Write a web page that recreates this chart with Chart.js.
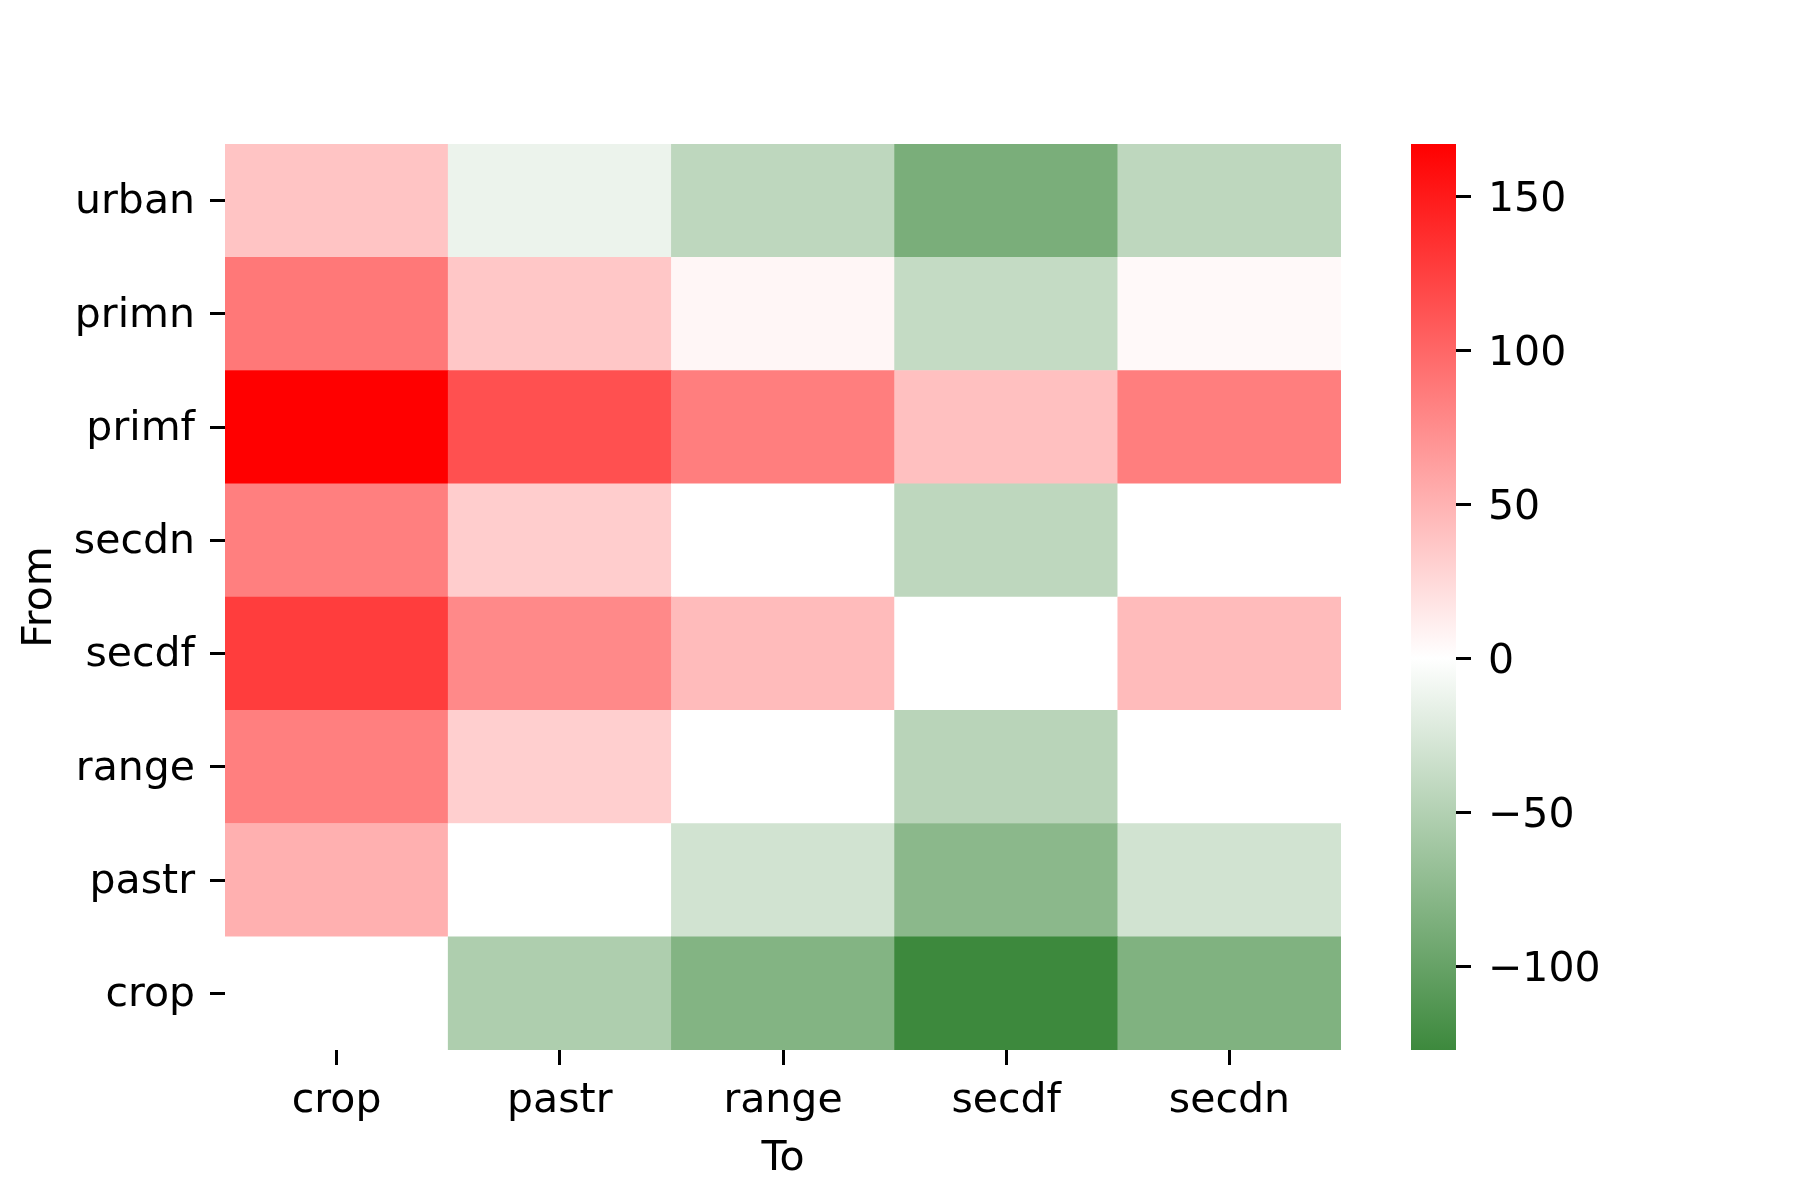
<!DOCTYPE html>
<html>
<head>
<meta charset="utf-8">
<script src="https://cdn.jsdelivr.net/npm/chart.js@4/dist/chart.umd.min.js"></script>
<style>
  html, body { margin: 0; padding: 0; background: #fff; }
  #wrap { position: relative; width: 1800px; height: 1200px; }
  canvas { position: absolute; left: 0; top: 0; }
</style>
</head>
<body>
<div id="wrap">
  <canvas id="heat" width="1800" height="1200"></canvas>
  <canvas id="cbar" width="1800" height="1200"></canvas>
</div>
<script>
// ---- data ----
const toLabels = ['crop', 'pastr', 'range', 'secdf', 'secdn'];
// rows listed from top to bottom as in the picture
const fromLabels = ['urban', 'primn', 'primf', 'secdn', 'secdf', 'range', 'pastr', 'crop'];
const rowUrban = [38.6, -12.4, -42.6, -87.0, -42.6];
const rowPrimn = [88.4, 36.7, 5.9, -38.6, 3.9];
const rowPrimf = [167.0, 114.6, 84.5, 41.3, 84.5];
const rowSecdn = [83.8, 32.7, 0, -42.6, 0];
const rowSecdf = [127.0, 77.3, 44.5, 0, 44.5];
const rowRange = [83.8, 31.4, 0, -45.8, 0];
const rowPastr = [51.7, 0, -30.1, -76.0, -30.1];
const rowCrop = [0, -53.0, -81.2, -127.2, -83.2];
const colorbarTicks = [-100, -50, 0, 50, 100, 150];

const rowsTopDown = [rowUrban, rowPrimn, rowPrimf, rowSecdn, rowSecdf, rowRange, rowPastr, rowCrop];

// ---- colour scale (darkgreen -> white -> red, centred on 0) ----
const allVals = rowsTopDown.flat();
const vmin = Math.min(...allVals);
const vmax = Math.max(...allVals);
const vrange = Math.max(Math.abs(vmin), Math.abs(vmax));
const RED = [255, 0, 0], WHITE = [255, 255, 255], GREEN = [0, 100, 0];
function mix(a, b, t) { return a.map((c, i) => Math.round(c + (b[i] - c) * t)); }
function colorFor(v) {
  const t = Math.min(1, Math.abs(v) / vrange);
  const c = v >= 0 ? mix(WHITE, RED, t) : mix(WHITE, GREEN, t);
  return `rgb(${c[0]},${c[1]},${c[2]})`;
}

Chart.defaults.font.family = "'DejaVu Sans', sans-serif";
Chart.defaults.font.size = 41;
Chart.defaults.color = '#000';

const FONT = { family: "'DejaVu Sans', sans-serif", size: 41 };
const fromBottomUp = fromLabels.slice().reverse();
const rowsBottomUp = rowsTopDown.slice().reverse();

// each row is a stacked segment of height 1; its colour comes from the value
const datasets = rowsBottomUp.map((vals, i) => ({
  label: fromBottomUp[i],
  data: vals.map(() => 1),
  values: vals,
  backgroundColor: vals.map(colorFor),
  borderWidth: 0,
  barPercentage: 1,
  categoryPercentage: 1,
  stack: 's'
}));

new Chart(document.getElementById('heat'), {
  type: 'bar',
  data: { labels: toLabels, datasets },
  options: {
    responsive: false,
    animation: false,
    devicePixelRatio: 1,
    layout: { padding: { left: 0, right: 459, top: 144, bottom: 0 } },
    plugins: { legend: { display: false }, tooltip: { enabled: false } },
    scales: {
      x: {
        stacked: true,
        offset: true,
        grid: { offset: false, drawOnChartArea: false, drawTicks: true, tickLength: 15, tickWidth: 3, tickColor: '#000' },
        border: { display: false },
        ticks: { font: FONT, padding: 11.5, maxRotation: 0 },
        title: { display: true, text: 'To', font: FONT, padding: { top: 0, bottom: 16 } },
        afterFit: (s) => { s.height = 150; }
      },
      y: {
        stacked: true,
        type: 'linear',
        min: 0,
        max: fromLabels.length,
        grid: { drawOnChartArea: false, drawTicks: true, tickLength: 15, tickWidth: 3, tickColor: '#000' },
        border: { display: false },
        afterBuildTicks: (s) => { s.ticks = fromBottomUp.map((_, i) => ({ value: i + 0.5 })); },
        ticks: { font: FONT, padding: 15, labelOffset: 2, callback: (v) => fromBottomUp[Math.floor(v)] },
        title: { display: true, text: 'From', font: FONT, padding: { top: 15.5, bottom: 0 } },
        afterFit: (s) => { s.width = 225; }
      }
    }
  }
});

// ---- colour bar ----
new Chart(document.getElementById('cbar'), {
  type: 'bar',
  data: {
    labels: ['cb'],
    datasets: [{
      data: [[vmin, vmax]],
      borderWidth: 0,
      barPercentage: 1,
      categoryPercentage: 1,
      backgroundColor: (ctx) => {
        const chart = ctx.chart;
        const { chartArea, scales } = chart;
        if (!chartArea) return 'rgba(0,0,0,0)';
        const yTop = scales.y.getPixelForValue(vmax);
        const yBot = scales.y.getPixelForValue(vmin);
        const g = chart.ctx.createLinearGradient(0, yTop, 0, yBot);
        g.addColorStop(0, colorFor(vmax));
        g.addColorStop(vmax / (vmax - vmin), colorFor(0));
        g.addColorStop(1, colorFor(vmin));
        return g;
      }
    }]
  },
  options: {
    responsive: false,
    animation: false,
    devicePixelRatio: 1,
    layout: { padding: { left: 1411, right: 144, top: 144, bottom: 150 } },
    plugins: { legend: { display: false }, tooltip: { enabled: false } },
    scales: {
      x: { display: false, offset: true },
      y: {
        type: 'linear',
        position: 'right',
        min: vmin,
        max: vmax,
        grid: { drawOnChartArea: false, drawTicks: true, tickLength: 15, tickWidth: 3, tickColor: '#000' },
        border: { display: false },
        afterBuildTicks: (s) => { s.ticks = colorbarTicks.map(v => ({ value: v })); },
        ticks: { font: FONT, padding: 17, labelOffset: 4, callback: (v) => String(v).replace('-', '\u2212') },
        afterFit: (s) => { s.width = 200; }
      }
    }
  }
});
</script>
</body>
</html>
